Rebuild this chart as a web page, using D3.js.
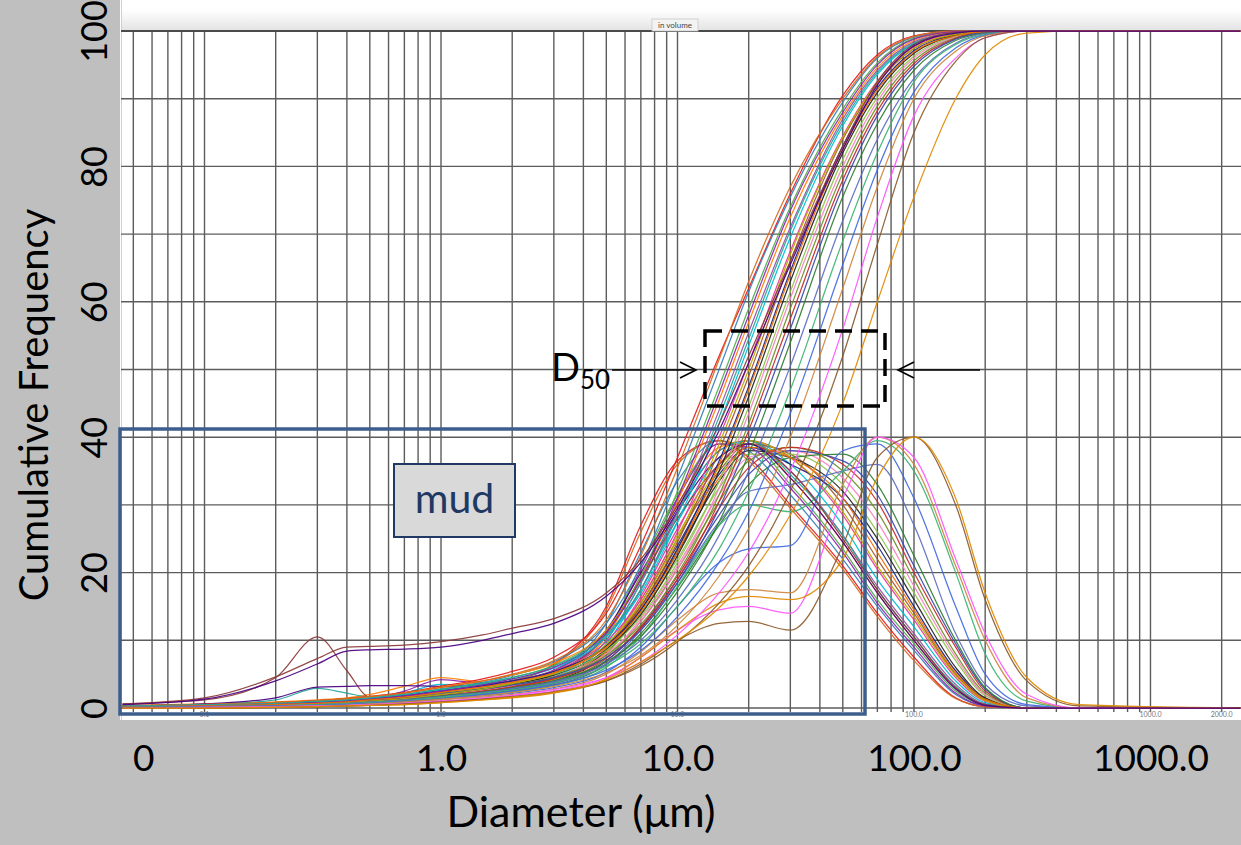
<!DOCTYPE html>
<html>
<head>
<meta charset="utf-8">
<script src="https://cdn.jsdelivr.net/npm/d3@7"></script>
<style>
  html, body { margin: 0; padding: 0; background: #bfbfbf; }
  svg { display: block; font-family: Lato, "Open Sans", sans-serif; }
</style>
</head>
<body>
<svg id="chart" width="1241" height="845"></svg>
<script>
// Particle size classes (µm) at which every distribution is sampled
const diameters = [0.045, 0.1, 0.2, 0.3, 0.4, 0.5, 0.7, 1, 1.5, 2, 3, 5, 7, 10, 15, 20, 30, 50, 70, 100, 150, 200, 300, 500, 2400];

// Cumulative volume frequency (%) per sample
const cumulative = [
  [0.3,0.5,0.8,1.1,1.4,1.7,2.3,3.2,4.3,5.4, 7.5,14,24,37,52,62,76,90.5,96.5,99.3, 100,100,100,100,100],
  [0.2,0.4,0.7,1.0,1.2,1.5,2.0,2.8,3.8,4.8, 6.8,12.5,21,34,50,61.5,75.5,89.5,96,99.1, 100,100,100,100,100],
  [0.2,0.4,0.6,0.9,1.1,1.4,1.9,2.7,3.6,4.5, 6.3,11.5,19.5,32,47.5,59,74,88.5,95.3,98.9, 99.9,100,100,100,100],
  [0.3,0.5,0.8,1.0,1.3,1.6,2.2,3.1,4.0,4.9, 6.6,11.5,19,30.5,45.5,57,72.5,87.5,94.6,98.6, 99.9,100,100,100,100],
  [0.1,0.3,0.5,0.7,0.9,1.1,1.6,2.3,3.1,3.9, 5.6,10.5,17.5,29,44,55.5,71,87,94.2,98.4, 99.8,100,100,100,100],
  [0.2,0.4,0.6,0.9,1.1,1.4,1.9,2.6,3.5,4.3, 5.9,10.5,17,27.5,42,53.5,69.5,86,93.6,98.1, 99.7,100,100,100,100],
  [0.2,0.3,0.5,0.7,0.9,1.2,1.7,2.4,3.2,4.0, 5.5,9.8,16,26,40,51,67.5,84.5,92.6,97.7, 99.6,100,100,100,100],
  [0.1,0.3,0.5,0.7,0.9,1.1,1.5,2.2,3.0,3.7, 5.2,9.2,15,24.5,38,49,66,84,92.2,97.4, 99.5,100,100,100,100],
  [0.2,0.4,0.6,0.8,1.0,1.3,1.8,2.5,3.3,4.0, 5.4,9.2,14.5,23.5,36.5,47.5,64.5,83,91.6,97.1, 99.4,99.9,100,100,100],
  [0.1,0.2,0.4,0.6,0.8,1.0,1.4,2.0,2.8,3.5, 4.9,8.6,13.8,22.5,35,46,63,82,90.9,96.7, 99.3,99.9,100,100,100],
  [0.2,0.3,0.5,0.7,0.9,1.1,1.5,2.2,3.0,3.7, 5.0,8.5,13.5,21.5,33.5,44.5,61.5,81,90.2,96.3, 99.2,99.9,100,100,100],
  [0.1,0.2,0.4,0.6,0.8,1.0,1.3,1.9,2.6,3.3, 4.6,8.0,12.8,20.5,32.5,43.5,60.5,80,89.6,96, 99.1,99.9,100,100,100],
  [0.2,0.3,0.5,0.7,0.9,1.1,1.5,2.1,2.8,3.4, 4.6,7.8,12.3,19.8,31.5,42,59,79,88.9,95.6, 99,99.9,100,100,100],
  [0.1,0.2,0.3,0.5,0.7,0.9,1.2,1.8,2.5,3.1, 4.3,7.4,11.8,19,30.5,41,57.5,78,88.2,95.2, 98.9,99.8,100,100,100],
  [0.1,0.3,0.5,0.7,0.9,1.1,1.5,2.1,2.8,3.4, 4.5,7.5,11.5,18.5,29.5,39.5,56,77,87.5,94.8, 98.8,99.8,100,100,100],
  [0.1,0.2,0.4,0.6,0.8,1.0,1.3,1.8,2.4,3.0, 4.0,6.8,10.6,17.2,27.5,37.5,54,75.5,86.3,94.2, 98.6,99.7,100,100,100],
  [0.3,0.5,0.8,1.1,1.4,1.7,2.2,3.0,4.0,5.0, 7.0,13,22.5,35.5,51.5,63,77,90,96.2,99.2, 100,100,100,100,100],
  [0.2,0.4,0.6,0.8,1.0,1.3,1.8,2.5,3.4,4.3, 6.0,11.2,19,31,46.5,58,73.5,88,95,98.8, 99.9,100,100,100,100],
  [0.3,0.5,0.7,1.0,1.2,1.5,2.0,2.8,3.7,4.5, 6.2,10.8,17.5,28.5,43,54.5,70.5,86.5,93.9,98.2, 99.7,100,100,100,100],
  [0.1,0.2,0.4,0.6,0.8,1.0,1.4,2.0,2.8,3.6, 5.1,9.4,15.5,25,39,50,67,84.3,92.4,97.5, 99.5,100,100,100,100],
  [0.2,0.3,0.5,0.7,0.9,1.2,1.6,2.3,3.1,3.8, 5.2,9,14.2,23,36,47,64,82.5,91.3,96.9, 99.3,99.9,100,100,100],
  [0.1,0.2,0.3,0.5,0.7,0.9,1.2,1.7,2.3,2.9, 3.9,6.5,10,16,25.5,35,50.5,72,84,93, 98.2,99.6,100,100,100],
  [0.1,0.2,0.3,0.5,0.6,0.8,1.1,1.6,2.2,2.7, 3.7,6.2,9.5,15,23.5,32,47,69,82,92.5, 98,99.5,100,100,100],
  [0.1,0.2,0.3,0.4,0.5,0.7,1.0,1.4,2.0,2.5, 3.4,5.6,8.5,13.5,21.5,29,43.5,65.5,79.5,91, 97.5,99.4,100,100,100],
  [0,0.1,0.2,0.3,0.4,0.6,0.9,1.3,1.8,2.3, 3.2,5.2,7.8,12.2,19.5,26.5,40,62,77,90, 97,99.3,100,100,100],
  [0,0.1,0.2,0.3,0.4,0.5,0.7,1.0,1.5,1.9, 2.7,4.5,6.8,10.8,17,23,35,56,72.5,87.5, 96,99,100,100,100],
  [0,0,0.1,0.2,0.3,0.4,0.6,0.9,1.3,1.7, 2.4,4.0,6.2,9.8,15.5,21,32,52,68.5,85, 95.5,99,100,100,100],
  [0,0,0.1,0.2,0.3,0.4,0.5,0.8,1.2,1.6, 2.3,4.2,6.8,10,14.8,19.5,28.5,45,60,75.5, 90,96.5,99.7,100,100],
  [0.6,1.5,4.6,7.3,9.0,9.1,9.3,9.8,10.8,11.8, 13.2,17,22,30,42,52,66,83,92.5,98, 99.8,100,100,100,100],
  [0.5,1.3,4.0,6.5,8.4,8.6,8.7,9.0,10.0,11.0, 12.5,16.5,21.5,29.5,41,51,65.5,82.5,92,97.8, 99.7,100,100,100,100]
];

// Volume frequency density per sample (same order as above)
const frequency = [
  [0.3,0.5,0.8,1.0,1.2,1.4,1.8,2.5,3.2,4.0, 6.5,15,27,36.5,39.5,37,30,21,14,7.5, 1.5,0.2,0,0,0],
  [0.2,0.4,0.6,0.8,1.0,1.2,1.6,2.2,2.8,3.5, 5.5,12.5,23,33.5,39.5,38,31.5,22,15,8.5, 2,0.3,0,0,0],
  [0.2,0.3,0.5,0.7,0.9,1.1,1.5,2.1,2.7,3.3, 5,11,21,31.5,39,39,33,23.5,16,9.5, 2.5,0.4,0,0,0],
  [0.4,0.6,0.9,1.2,1.5,2.0,3.2,4.5,3.8,3.6, 5,10.5,19.5,30,38.5,39.5,34,24.5,17,10, 3,0.5,0,0,0],
  [0.1,0.2,0.4,0.6,0.8,1.0,1.4,2.0,2.6,3.2, 4.8,10,18.5,29,38,39.5,35,25.5,18,11, 3.5,0.6,0,0,0],
  [0.2,0.3,0.5,0.7,0.9,1.2,2.2,3.5,3.2,3.3, 4.6,9.5,17.5,27.5,37,39.5,36,27,19,12, 4,0.8,0,0,0],
  [0.1,0.2,0.4,0.6,0.8,1.0,1.3,1.9,2.4,3.0, 4.4,9,16.5,26.5,36,39.5,37,28.5,20.5,13, 4.5,1,0,0,0],
  [0.1,0.2,0.4,0.5,0.7,0.9,1.2,1.8,2.3,2.9, 4.2,8.6,15.5,25,35,39,37.5,30,22,14, 5,1.2,0,0,0],
  [0.2,0.3,0.5,0.7,0.9,1.1,1.6,2.4,2.8,3.2, 4.4,8.5,15,24,34.5,38.5,36,31,24,15, 5.5,1.4,0,0,0],
  [0.1,0.2,0.3,0.5,0.6,0.8,1.2,1.7,2.2,2.7, 4,8,14.5,23,33.5,38,37,32,25,16, 6,1.5,0,0,0],
  [0.2,0.3,0.4,0.6,0.8,1.0,1.4,2.0,2.5,3.0, 4.2,8,14,22,32.5,37.5,37.5,33,26,17, 7,1.8,0,0,0],
  [0.1,0.2,0.3,0.5,0.6,0.8,1.1,1.6,2.1,2.6, 3.8,7.5,13.2,21,31.5,37,38,34,27.5,18, 7.5,2,0,0,0],
  [0.2,0.3,0.4,0.6,0.8,1.0,1.4,1.9,2.4,2.9, 4,7.3,12.8,20.5,30.5,36.5,38.5,35,29,19, 8,2.2,0,0,0],
  [0.1,0.2,0.3,0.4,0.6,0.8,1.0,1.5,2.0,2.5, 3.6,6.9,12,19.5,29.5,35.5,38.5,36,30.5,20, 9,2.5,0,0,0],
  [0.1,0.2,0.4,0.5,0.7,0.9,1.3,1.8,2.3,2.8, 3.8,7,11.8,19,28.5,34.5,38,36.5,31.5,21, 9.5,2.8,0,0,0],
  [0.1,0.2,0.3,0.5,0.6,0.8,1.1,1.5,2.0,2.5, 3.4,6.4,11,17.8,27,33,37,37.5,33,22.5, 10,3,0,0,0],
  [0.3,0.5,0.8,1.0,1.3,1.5,1.9,2.6,3.3,4.1, 6.3,14.5,26,36,39.5,36.5,29.5,20.5,13.5,7, 1.4,0.2,0,0,0],
  [0.2,0.4,0.6,0.8,1.0,1.3,2.5,4.2,3.6,3.5, 5.2,11,20.5,31,39,38.5,32.5,23,15.5,9, 2.2,0.3,0,0,0],
  [0.3,0.5,1.2,2.9,2.2,1.6,1.5,2.3,2.9,3.4, 5,10,18.5,29,38,39.5,34.5,25.5,17.5,10.5, 3.2,0.5,0,0,0],
  [0.1,0.2,0.4,0.5,0.7,0.9,1.3,1.9,2.4,3.0, 4.4,8.8,16,25.5,35.5,39.5,37,29,21,13.5, 4.8,1.1,0,0,0],
  [0.2,0.3,0.5,0.7,0.9,1.1,1.5,2.1,2.6,3.1, 4.3,8.3,14.8,23.5,34,38.5,37,31,23,14.5, 5.2,1.3,0,0,0],
  [0.1,0.2,0.3,0.5,0.6,0.8,1.1,1.6,2.1,2.6, 3.6,6.5,11.5,18.5,27.5,32,33,35,36,27, 11,3.5,0.3,0,0],
  [0.1,0.2,0.3,0.4,0.5,0.7,1.0,1.5,2.0,2.4, 3.3,6,10.5,18,27,30,29,35,39.5,35, 20,8,1,0,0],
  [0.1,0.2,0.3,0.4,0.5,0.6,0.9,1.3,1.8,2.2, 3,5.3,9,15,21.5,23.5,24,38,39,31, 15,5,0.5,0,0],
  [0,0.1,0.2,0.3,0.4,0.5,0.8,1.2,1.6,2.0, 2.8,5,8.3,13,17,17.5,17,33,40,36, 21,10,1.5,0,0],
  [0,0.1,0.2,0.3,0.4,0.5,0.7,1.0,1.4,1.8, 2.5,4.5,7.5,11.5,14.5,15,14,31,40,37, 22,11,2,0,0],
  [0,0,0.1,0.2,0.3,0.4,0.6,0.9,1.3,1.6, 2.3,4,6.5,10,12.5,12.8,11.5,24,37,40, 30,16,4,0.3,0],
  [0,0,0.1,0.2,0.3,0.4,0.5,0.8,1.2,1.5, 2.2,4.3,7.5,11.5,15.5,16.5,16,22,34,40, 31,17,4.5,0.5,0],
  [0.6,1.2,4.5,10.5,5.5,1.6,1.5,1.8,2.5,3.2, 5,11,19,28,36,39,35,25,17.5,10.5, 3,0.5,0,0,0],
  [0.3,0.6,1.5,3.1,3.2,3.3,3.3,3.2,3.5,4, 5.5,11.5,20,29,37,39,34,24.5,17,10, 2.8,0.4,0,0,0]
];

// One trace colour per sample
const sampleColors = [
  "#e41a1c","#377eb8","#4daf4a","#ff7f00","#984ea3","#00bcd4","#e6399b","#a65628",
  "#1a237e","#222222","#8bc34a","#f781bf","#6b8e23","#c62828","#3949ab","#2e7d32",
  "#d2691e","#8e24aa","#26a69a","#b8a800","#ef6c00","#5c6bc0","#3cb371","#4169e1",
  "#cd853f","#ff55ff","#8b5a2b","#e08a00","#8b3a3a","#4b0082"
];

// Axis labelling
const xTickValues = [0.055, 1, 10, 100, 1000];
const xTickLabels = ["0", "1.0", "10.0", "100.0", "1000.0"];
const xMinorLabelValues = [0.1, 1, 10, 100, 1000, 2000];
const yTickValues = [0, 20, 40, 60, 80, 100];
const yGridValues = [0, 10, 20, 30, 40, 50, 60, 70, 80, 90, 100];

const W = 1241, H = 845;
const svg = d3.select("#chart");

const x = d3.scaleLog().domain([0.045, 2400]).range([122.5, 1240.4]);
const y = d3.scaleLinear().domain([0, 100]).range([708, 31]);

const defs = svg.append("defs");
const band = defs.append("linearGradient").attr("id", "band").attr("x1", 0).attr("y1", 0).attr("x2", 0).attr("y2", 1);
band.append("stop").attr("offset", "0%").attr("stop-color", "#ffffff");
band.append("stop").attr("offset", "100%").attr("stop-color", "#e4e4e4");
defs.append("clipPath").attr("id", "plotClip")
  .append("rect").attr("x", 121).attr("y", 20).attr("width", W - 121).attr("height", 695);

// background and white plotting panel
svg.append("rect").attr("width", W).attr("height", H).attr("fill", "#bfbfbf");
svg.append("rect").attr("x", 120).attr("y", 0).attr("width", W - 120).attr("height", 720).attr("fill", "#ffffff");
svg.append("rect").attr("x", 121).attr("y", 10).attr("width", W - 121).attr("height", 20).attr("fill", "url(#band)");
svg.append("line").attr("x1", 121.5).attr("x2", 121.5).attr("y1", 0).attr("y2", 720)
  .attr("stroke", "#cfcfcf").attr("stroke-width", 1);

// log grid: every integer multiple within each decade
const xGridValues = [];
for (let k = -2; k <= 3; k++) {
  for (let m = 1; m <= 9; m++) {
    const v = m * Math.pow(10, k);
    if (v >= 0.045 && v <= 2400) xGridValues.push(v);
  }
}
const grid = svg.append("g").attr("stroke", "#5c5c5c").attr("stroke-width", 1.4);
grid.selectAll("line.v").data(xGridValues).join("line").attr("class", "v")
  .attr("x1", d => x(d)).attr("x2", d => x(d)).attr("y1", y(100)).attr("y2", 712);
grid.selectAll("line.h").data(yGridValues).join("line").attr("class", "h")
  .attr("x1", 121).attr("x2", W).attr("y1", d => y(d)).attr("y2", d => y(d));
svg.append("line").attr("x1", 121).attr("x2", W).attr("y1", y(100)).attr("y2", y(100))
  .attr("stroke", "#4a4a4a").attr("stroke-width", 2.2);

// small instrument labels along the lower edge
svg.append("g").selectAll("text").data(xMinorLabelValues).join("text")
  .attr("x", d => x(d)).attr("y", 717).attr("text-anchor", "middle")
  .attr("font-size", 7).attr("fill", "#777")
  .text(d => d.toFixed(1));

// "in volume" tab
svg.append("rect").attr("x", 652).attr("y", 19).attr("width", 46).attr("height", 12)
  .attr("fill", "#f3f3f3").attr("stroke", "#c8c8c8").attr("stroke-width", 0.8);
svg.append("text").attr("x", 675).attr("y", 28).attr("text-anchor", "middle")
  .attr("font-size", 8).attr("fill", "#444").text("in volume");

// distribution traces
const line = d3.line()
  .x((d, i) => x(diameters[i]))
  .y(d => y(d))
  .curve(d3.curveMonotoneX);

const traces = svg.append("g").attr("clip-path", "url(#plotClip)")
  .attr("fill", "none").attr("stroke-width", 1.25).attr("stroke-opacity", 0.92);
traces.selectAll("path.freq").data(frequency).join("path").attr("class", "freq")
  .attr("d", line).attr("stroke", (d, i) => sampleColors[i]);
traces.selectAll("path.cum").data(cumulative).join("path").attr("class", "cum")
  .attr("d", line).attr("stroke", (d, i) => sampleColors[i]);

// mud fraction frame and label
svg.append("rect").attr("x", 120).attr("y", 429).attr("width", 745).attr("height", 285)
  .attr("fill", "none").attr("stroke", "#3d5e8c").attr("stroke-width", 3.5);
svg.append("rect").attr("x", 394).attr("y", 464).attr("width", 121).attr("height", 73)
  .attr("fill", "#d9d9d9").attr("stroke", "#203864").attr("stroke-width", 2);
svg.append("text").attr("x", 454.5).attr("y", 513).attr("text-anchor", "middle")
  .attr("font-size", 41).attr("fill", "#1f3864").text("mud");

// D50 window with arrows
svg.append("rect").attr("x", 705).attr("y", 331).attr("width", 180).attr("height", 75)
  .attr("fill", "none").attr("stroke", "#000").attr("stroke-width", 3.5)
  .attr("stroke-dasharray", "17,9");
const arrows = svg.append("g").attr("stroke", "#000").attr("stroke-width", 1.6).attr("fill", "none");
arrows.append("line").attr("x1", 612).attr("x2", 696).attr("y1", 370).attr("y2", 370);
arrows.append("path").attr("d", "M680,362 L696,370 L680,378");
arrows.append("line").attr("x1", 980).attr("x2", 898).attr("y1", 370).attr("y2", 370);
arrows.append("path").attr("d", "M914,362 L898,370 L914,378");
const d50 = svg.append("text").attr("x", 551).attr("y", 381).attr("fill", "#000");
d50.append("tspan").attr("font-size", 38).text("D");
d50.append("tspan").attr("font-size", 26).attr("dy", 8).text("50");

// x axis labels
const xAxis = svg.append("g").attr("transform", "translate(0,720)")
  .call(d3.axisBottom(x).tickValues(xTickValues).tickFormat((d, i) => xTickLabels[i]).tickSize(0).tickPadding(25));
xAxis.select(".domain").remove();
xAxis.selectAll("text").attr("font-size", 37).attr("font-family", "Lato, sans-serif").attr("fill", "#000");

// y axis labels, set sideways
const yAxis = svg.append("g").attr("transform", "translate(121,0)")
  .call(d3.axisLeft(y).tickValues(yTickValues).tickSize(0));
yAxis.select(".domain").remove();
yAxis.selectAll("text")
  .attr("x", 0).attr("y", 0).attr("dy", "0.36em")
  .attr("text-anchor", "middle")
  .attr("transform", "translate(-27,0) rotate(-90)")
  .attr("font-size", 36).attr("font-family", "Lato, sans-serif").attr("fill", "#000");

// axis titles
svg.append("text").attr("transform", "translate(34,405) rotate(-90)")
  .attr("text-anchor", "middle").attr("dy", "0.36em")
  .attr("font-size", 40).attr("fill", "#000").text("Cumulative Frequency");
svg.append("text").attr("x", 581).attr("y", 827).attr("text-anchor", "middle")
  .attr("font-size", 43).attr("fill", "#000").text("Diameter (\u03bcm)");
</script>
</body>
</html>
